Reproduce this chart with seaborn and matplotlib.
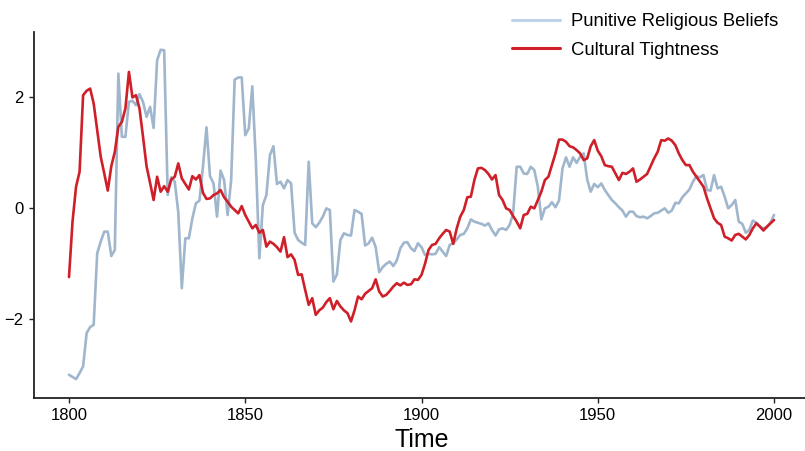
import numpy as np
import pandas as pd
import matplotlib
matplotlib.use("Agg")
import matplotlib.pyplot as plt
import seaborn as sns

years = list(range(1800, 2001))

punitive_religious_beliefs = [
    -3.01, -3.05, -3.09, -2.98, -2.86, -2.26, -2.15, -2.11, -0.82, -0.61,   # 1800-1809
    -0.43, -0.43, -0.87, -0.76, 2.42, 1.28, 1.28, 1.91, 1.93, 1.85,          # 1810-1819
    2.05, 1.91, 1.64, 1.82, 1.44, 2.66, 2.85, 2.84, 0.23, 0.55,              # 1820-1829
    0.47, -0.08, -1.45, -0.55, -0.55, -0.19, 0.08, 0.13, 0.74, 1.45,         # 1830-1839
    0.57, 0.44, -0.16, 0.67, 0.50, -0.13, 0.50, 2.31, 2.35, 2.35,            # 1840-1849
    1.31, 1.43, 2.19, 0.86, -0.91, 0.05, 0.23, 0.95, 1.11, 0.43,             # 1850-1859
    0.47, 0.35, 0.50, 0.44, -0.45, -0.58, -0.63, -0.67, 0.83, -0.28,         # 1860-1869
    -0.35, -0.27, -0.16, -0.01, -0.04, -1.33, -1.20, -0.58, -0.46, -0.49,    # 1870-1879
    -0.50, -0.04, -0.07, -0.11, -0.68, -0.64, -0.54, -0.71, -1.16, -1.07,    # 1880-1889
    -1.01, -0.97, -1.05, -0.95, -0.73, -0.63, -0.62, -0.73, -0.78, -0.64,    # 1890-1899
    -0.71, -0.85, -0.83, -0.84, -0.83, -0.71, -0.79, -0.87, -0.67, -0.64,    # 1900-1909
    -0.57, -0.49, -0.47, -0.37, -0.21, -0.25, -0.27, -0.29, -0.32, -0.28,    # 1910-1919
    -0.40, -0.50, -0.39, -0.37, -0.40, -0.31, -0.10, 0.74, 0.74, 0.62,       # 1920-1929
    0.61, 0.74, 0.68, 0.38, -0.21, -0.01, 0.02, 0.10, 0.01, 0.13,            # 1930-1939
    0.71, 0.91, 0.74, 0.91, 0.81, 0.92, 0.98, 0.51, 0.29, 0.43,              # 1940-1949
    0.37, 0.44, 0.32, 0.23, 0.14, 0.08, 0.01, -0.05, -0.16, -0.07,           # 1950-1959
    -0.07, -0.15, -0.17, -0.16, -0.19, -0.15, -0.10, -0.09, -0.05, -0.01,    # 1960-1969
    -0.09, -0.05, 0.09, 0.08, 0.19, 0.26, 0.33, 0.47, 0.57, 0.55,            # 1970-1979
    0.59, 0.32, 0.31, 0.59, 0.35, 0.38, 0.20, -0.01, 0.05, 0.14,             # 1980-1989
    -0.25, -0.29, -0.45, -0.40, -0.23, -0.27, -0.34, -0.37, -0.35, -0.27,    # 1990-1999
    -0.13,                                                                   # 2000
]

cultural_tightness = [
    -1.25, -0.25, 0.38, 0.65, 2.03, 2.11, 2.15, 1.88, 1.40, 0.92,            # 1800-1809
    0.62, 0.31, 0.75, 1.01, 1.46, 1.55, 1.79, 2.45, 1.99, 2.03,              # 1810-1819
    1.79, 1.28, 0.75, 0.45, 0.14, 0.56, 0.29, 0.39, 0.29, 0.51,              # 1820-1829
    0.56, 0.80, 0.53, 0.43, 0.33, 0.57, 0.51, 0.59, 0.27, 0.16,              # 1830-1839
    0.17, 0.23, 0.26, 0.32, 0.19, 0.11, 0.02, -0.04, -0.10, 0.03,            # 1840-1849
    -0.13, -0.25, -0.37, -0.31, -0.45, -0.40, -0.70, -0.61, -0.65, -0.71,    # 1850-1859
    -0.79, -0.53, -0.89, -0.84, -0.94, -1.21, -1.20, -1.48, -1.75, -1.63,    # 1860-1869
    -1.93, -1.85, -1.80, -1.70, -1.63, -1.83, -1.68, -1.78, -1.85, -1.90,    # 1870-1879
    -2.05, -1.85, -1.60, -1.65, -1.55, -1.50, -1.45, -1.29, -1.51, -1.60,    # 1880-1889
    -1.57, -1.50, -1.42, -1.36, -1.40, -1.35, -1.39, -1.38, -1.29, -1.30,    # 1890-1899
    -1.21, -1.01, -0.76, -0.67, -0.65, -0.55, -0.47, -0.40, -0.43, -0.65,    # 1900-1909
    -0.37, -0.16, -0.04, 0.19, 0.20, 0.50, 0.71, 0.72, 0.68, 0.61,           # 1910-1919
    0.51, 0.59, 0.23, 0.14, -0.01, -0.04, -0.15, -0.25, -0.37, -0.13,        # 1920-1929
    -0.11, 0.02, -0.01, 0.14, 0.29, 0.50, 0.56, 0.77, 0.98, 1.23,            # 1930-1939
    1.23, 1.19, 1.11, 1.09, 1.04, 0.98, 0.86, 0.89, 1.11, 1.22,              # 1940-1949
    1.03, 0.93, 0.77, 0.75, 0.74, 0.62, 0.50, 0.63, 0.61, 0.65,              # 1950-1959
    0.71, 0.47, 0.51, 0.56, 0.61, 0.75, 0.89, 1.01, 1.22, 1.21,              # 1960-1969
    1.25, 1.21, 1.13, 0.98, 0.86, 0.77, 0.77, 0.65, 0.56, 0.47,              # 1970-1979
    0.38, 0.17, -0.01, -0.19, -0.27, -0.31, -0.52, -0.55, -0.59, -0.49,      # 1980-1989
    -0.47, -0.52, -0.57, -0.49, -0.37, -0.28, -0.34, -0.41, -0.34, -0.28,    # 1990-1999
    -0.22,                                                                   # 2000
]

series_names = ["Punitive Religious Beliefs", "Cultural Tightness"]
series_colors = ["#9fb6cd", "#cf1f29"]
x_ticks = [1800, 1850, 1900, 1950, 2000]
y_ticks = [-2, 0, 2]

df = pd.concat([
    pd.DataFrame({"Time": years, "value": punitive_religious_beliefs, "series": series_names[0]}),
    pd.DataFrame({"Time": years, "value": cultural_tightness, "series": series_names[1]}),
], ignore_index=True)

sns.set_theme(style="ticks")
plt.rcParams["font.family"] = ["Liberation Sans", "DejaVu Sans"]
plt.rcParams["text.color"] = "black"
plt.rcParams["axes.labelcolor"] = "black"
plt.rcParams["xtick.color"] = "black"
plt.rcParams["ytick.color"] = "black"

fig = plt.figure(figsize=(8.05, 4.51), dpi=100)
ax = fig.add_axes([33.75 / 805, 1 - 398 / 451, 775.5 / 805, 366 / 451])

sns.lineplot(data=df, x="Time", y="value", hue="series", hue_order=series_names,
             palette=dict(zip(series_names, series_colors)), linewidth=1.9, ax=ax)

ax.set_xlim(1790, 2010)
ax.set_ylim(-3.43, 3.17)
ax.set_xticks(x_ticks)
ax.set_yticks(y_ticks)
ax.set_yticklabels(["\u22122", "0", "2"])
ax.tick_params(axis="both", labelsize=12, length=3.5, width=1, color="#222222", pad=4)
ax.set_xlabel("Time", fontsize=18, labelpad=3)
ax.set_ylabel("")
for s in ["left", "bottom"]:
    ax.spines[s].set_linewidth(1.3)
    ax.spines[s].set_color("#222222")
sns.despine(ax=ax)

leg = ax.legend(loc="upper right", bbox_to_anchor=(1.0 - 24 / 775.5, 1.0 + 26 / 366),
                frameon=False, fontsize=13.3, handlelength=2.55, handletextpad=0.6,
                labelspacing=0.62, borderaxespad=0.0)
leg.get_lines()[0].set_color("#bcd3ea")
for l in leg.get_lines():
    l.set_linewidth(2.2)

fig.savefig("out.png", dpi=100)
